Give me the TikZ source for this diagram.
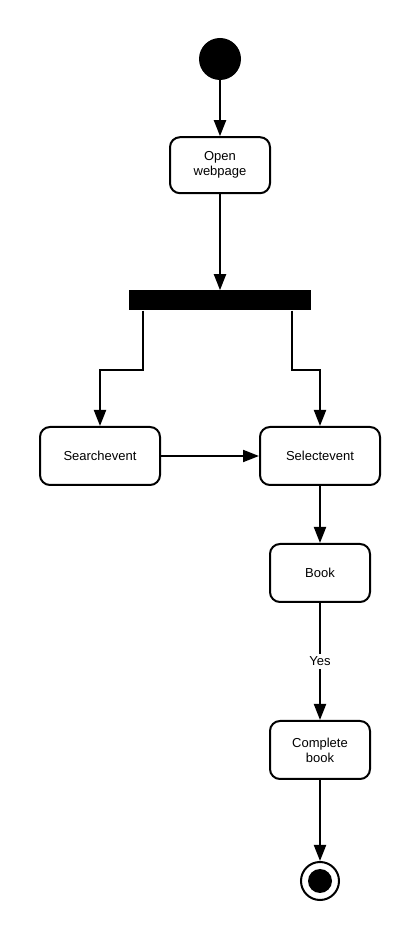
\documentclass[tikz,border=0pt]{standalone}
\usepackage{fontspec}
\setmainfont{Liberation Sans}
\usepackage{tikz}
\usetikzlibrary{arrows.meta,shapes,positioning}
\tikzstyle{arrow} = [line width=2pt,-{Triangle[length=16pt,width=12pt]}]
\tikzstyle{activity} = [rectangle, rounded corners=10pt, minimum width=100pt, minimum height=56pt, text centered, align=center, draw, line width=2pt, font=\fontsize{13}{15}\selectfont]
\tikzstyle{startstate} = [circle, fill, minimum size=42pt, inner sep=0pt]
\tikzstyle{forkbar} = [rectangle, fill, minimum width=182pt, minimum height=20pt, inner sep=0pt]

\begin{document}
\begin{tikzpicture}[x=1pt,y=1pt]
\useasboundingbox (0,0) rectangle (420,938);
\node[startstate] (start) at (220,879) {};
\node[activity, below=56pt of start] (open) {Open\\webpage};
\node[forkbar, below=96pt of open] (fork) {};
\node[activity, minimum width=120pt, minimum height=58pt] (search) at (100,482) {Searchevent};
\node[activity, minimum width=120pt, minimum height=58pt, right=98pt of search] (select) {Selectevent};
\node[activity, minimum height=58pt, below=57pt of select] (book) {Book};
\node[activity, minimum height=58pt, below=117pt of book] (complete) {Complete\\book};
\node[circle, draw, line width=2pt, minimum size=38pt, inner sep=0pt, below=81pt of complete] (end) {};
\fill (end.center) circle (12pt);
\draw[arrow] (start) -- (open);
\draw[arrow] (open) -- (fork);
\draw[arrow] ([xshift=-77pt]fork.south) -- ++(0,-59) -| (search);
\draw[arrow] ([xshift=72pt]fork.south) -- ++(0,-59) -| (select);
\draw[arrow] (search) -- (select);
\draw[arrow] (select) -- (book);
\draw[arrow] (book) -- node[fill=white, font=\fontsize{13}{15}\selectfont] {Yes} (complete);
\draw[arrow] (complete) -- (end);
\end{tikzpicture}
\end{document}
